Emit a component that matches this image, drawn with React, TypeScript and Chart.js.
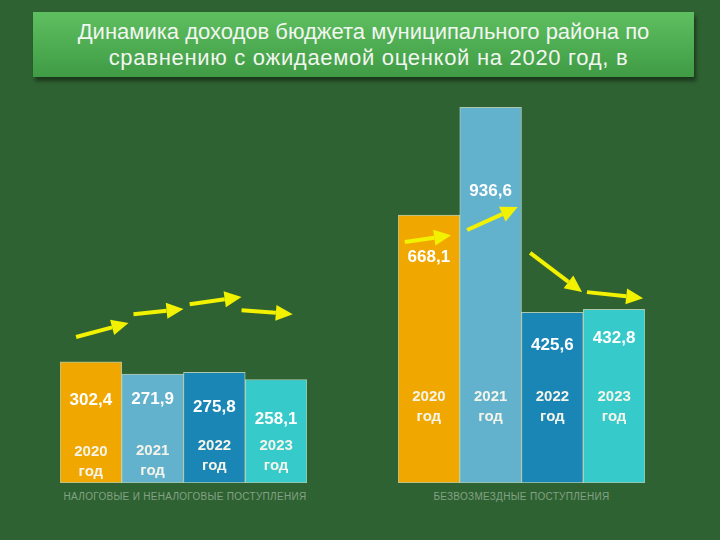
import React, { useEffect, useRef } from "react";
import { Chart, registerables } from "chart.js";

Chart.register(...registerables);

const years = ["2020", "2021", "2022", "2023"];
const taxRevenue = [302.4, 271.9, 275.8, 258.1];
const grantRevenue = [668.1, 936.6, 425.6, 432.8];
const groupTitles = [
  "НАЛОГОВЫЕ И НЕНАЛОГОВЫЕ ПОСТУПЛЕНИЯ",
  "БЕЗВОЗМЕЗДНЫЕ ПОСТУПЛЕНИЯ",
];
const titleLines = [
  "Динамика доходов бюджета муниципального района по",
  "сравнению с ожидаемой оценкой на 2020 год, в",
];
// arrow annotations in data coordinates: [fromIndex, fromValue, toIndex, toValue]
const taxArrows = [
  [-0.24, 364, 0.61, 399],
  [0.69, 421, 1.5, 434],
  [1.6, 446, 2.44, 464],
  [2.44, 431, 3.27, 421],
];
const grantArrows = [
  [-0.39, 601, 0.36, 618],
  [0.62, 631, 1.44, 688],
  [1.64, 574, 2.48, 476],
  [2.56, 476, 3.47, 461],
];

const BAR_COLORS = ["#F0A800", "#62B2CE", "#1A86B6", "#36CACA"];
const Y_MAX = 1000;

type Style = { valueDy: number[]; yearUp: number[] };
const taxStyle: Style = { valueDy: [39, 25, 35, 40], yearUp: [31, 32, 37, 37] };
const grantStyle: Style = { valueDy: [42, 84, 33, 29], yearUp: [86, 86, 86, 86] };

function fmt(v: number) {
  return v.toFixed(1).replace(".", ",");
}

function drawArrow(ctx: CanvasRenderingContext2D, x1: number, y1: number, x2: number, y2: number) {
  const ang = Math.atan2(y2 - y1, x2 - x1);
  const headLen = 17;
  const headW = 8;
  const bx = x2 - headLen * Math.cos(ang);
  const by = y2 - headLen * Math.sin(ang);
  ctx.save();
  ctx.strokeStyle = "#F2F200";
  ctx.fillStyle = "#F2F200";
  ctx.lineWidth = 4;
  ctx.lineCap = "butt";
  ctx.beginPath();
  ctx.moveTo(x1, y1);
  ctx.lineTo(bx, by);
  ctx.stroke();
  ctx.beginPath();
  ctx.moveTo(x2, y2);
  ctx.lineTo(bx + headW * Math.sin(ang), by - headW * Math.cos(ang));
  ctx.lineTo(bx - headW * Math.sin(ang), by + headW * Math.cos(ang));
  ctx.closePath();
  ctx.fill();
  ctx.restore();
}

function BarGroup(props: { values: number[]; arrows: number[][]; style: Style; left: number }) {
  const ref = useRef<HTMLCanvasElement | null>(null);
  useEffect(() => {
    if (!ref.current) return;
    const { values, arrows, style } = props;
    const labelPlugin = {
      id: "labels",
      afterDatasetsDraw(chart: any) {
        const ctx = chart.ctx as CanvasRenderingContext2D;
        const meta = chart.getDatasetMeta(0);
        const area = chart.chartArea;
        ctx.save();
        ctx.textAlign = "center";
        ctx.textBaseline = "middle";
        meta.data.forEach((bar: any, i: number) => {
          ctx.fillStyle = "#FFFFFF";
          ctx.font = "bold 17px 'Liberation Sans', Arial, sans-serif";
          ctx.fillText(fmt(values[i]), bar.x, bar.y + style.valueDy[i]);
          ctx.fillStyle = "#F4F4EA";
          ctx.font = "bold 15px 'Liberation Sans', Arial, sans-serif";
          const yy = area.bottom - style.yearUp[i];
          ctx.fillText(years[i], bar.x, yy);
          ctx.fillText("год", bar.x, yy + 20);
        });
        ctx.restore();
        const xs = chart.scales.x;
        const ys = chart.scales.y;
        const step = xs.getPixelForValue(1) - xs.getPixelForValue(0);
        const x0 = xs.getPixelForValue(0);
        arrows.forEach((a) => {
          drawArrow(
            ctx,
            x0 + a[0] * step,
            ys.getPixelForValue(a[1]),
            x0 + a[2] * step,
            ys.getPixelForValue(a[3])
          );
        });
      },
    };
    const chart = new Chart(ref.current, {
      type: "bar",
      data: {
        labels: years,
        datasets: [
          {
            data: values,
            backgroundColor: BAR_COLORS,
            borderColor: "rgba(215,235,215,0.75)",
            borderWidth: 1,
            borderSkipped: false,
            barPercentage: 1,
            categoryPercentage: 1,
          },
        ],
      },
      options: {
        responsive: false,
        animation: false,
        layout: { padding: { left: 10, right: 14, top: 10, bottom: 0 } },
        plugins: { legend: { display: false }, tooltip: { enabled: false } },
        scales: {
          x: { display: false },
          y: { display: false, min: 0, max: Y_MAX },
        },
      },
      plugins: [labelPlugin],
    });
    return () => chart.destroy();
  }, []);
  return (
    <canvas
      ref={ref}
      width={271}
      height={411}
      style={{ position: "absolute", left: props.left, top: 72, width: 271, height: 411 }}
    />
  );
}

export default function App() {
  return (
    <div
      style={{
        position: "fixed",
        left: 0,
        top: 0,
        width: 720,
        height: 540,
        background: "#2F6232",
        overflow: "hidden",
        fontFamily: "'Liberation Sans', Arial, sans-serif",
      }}
    >
      <div
        style={{
          position: "absolute",
          left: 33,
          top: 12,
          width: 661,
          height: 65,
          background: "linear-gradient(#5EBF60, #3F9B45)",
          boxShadow: "2px 4px 4px rgba(0,0,0,0.45)",
          color: "#F2F6F0",
          fontSize: 22,
          textAlign: "center",
          lineHeight: "26px",
          paddingTop: 7,
          boxSizing: "border-box",
          whiteSpace: "nowrap",
        }}
      >
        <div>{titleLines[0]}</div>
        <div style={{ paddingLeft: 10, letterSpacing: 0.7 }}>{titleLines[1]}</div>
      </div>
      <BarGroup values={taxRevenue} arrows={taxArrows} style={taxStyle} left={50} />
      <BarGroup values={grantRevenue} arrows={grantArrows} style={grantStyle} left={388} />
      <div
        style={{
          position: "absolute",
          left: 60,
          top: 491,
          width: 250,
          textAlign: "center",
          fontSize: 10,
          color: "rgba(215,225,215,0.5)",
          letterSpacing: 0.3,
        }}
      >
        {groupTitles[0]}
      </div>
      <div
        style={{
          position: "absolute",
          left: 398,
          top: 491,
          width: 247,
          textAlign: "center",
          fontSize: 10,
          color: "rgba(215,225,215,0.5)",
          letterSpacing: 0.3,
        }}
      >
        {groupTitles[1]}
      </div>
    </div>
  );
}
